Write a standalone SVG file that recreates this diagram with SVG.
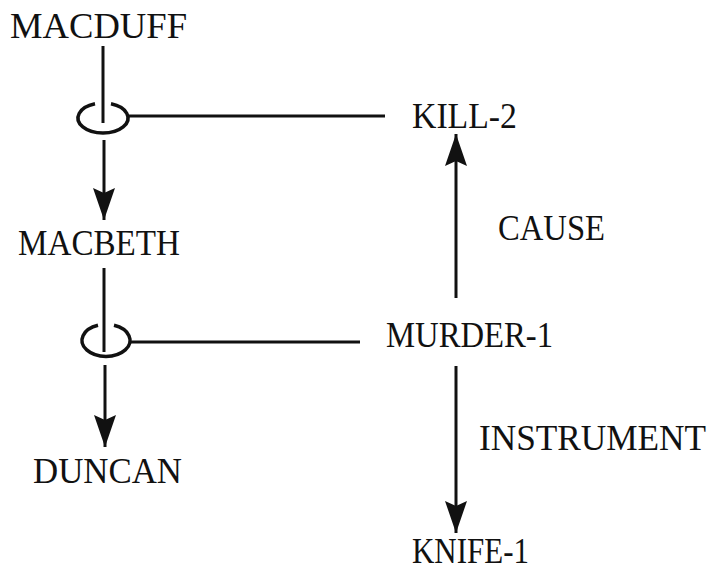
<svg xmlns="http://www.w3.org/2000/svg" width="722" height="571" viewBox="0 0 722 571">
<style>
.lbl{font-family:"Liberation Serif","Times New Roman",serif;font-size:35px;fill:#111}
.ln{stroke:#111;stroke-width:3;fill:none}
.ring{stroke:#111;stroke-width:3.5;fill:none}
</style>
<defs>
<marker id="ah" viewBox="0 0 32 22" refX="32" refY="11" markerWidth="32" markerHeight="22" markerUnits="userSpaceOnUse" orient="auto">
<path d="M0,0 L32,11 L0,22 L5,11 Z" fill="#111"/>
</marker>
</defs>
<rect width="722" height="571" fill="#fff"/>
<g id="connectors">
<line class="ln" x1="103" y1="46" x2="103" y2="123"/>
<path id="ring1" class="ring" d="M95,103.8 A25,15 0 1 0 111,103.8"/>
<line class="ln" x1="128" y1="116" x2="385" y2="116"/>
<line class="ln" x1="104" y1="140" x2="104" y2="220" marker-end="url(#ah)"/>
<line class="ln" x1="104" y1="268" x2="104" y2="352"/>
<path id="ring2" class="ring" d="M98,325.3 A24,16 0 1 0 114,325.3"/>
<line class="ln" x1="130" y1="342" x2="360" y2="342"/>
<line class="ln" x1="105" y1="365" x2="105" y2="447" marker-end="url(#ah)"/>
<line class="ln" x1="456" y1="298" x2="456" y2="134" marker-end="url(#ah)"/>
<line class="ln" x1="456" y1="366" x2="456" y2="533" marker-end="url(#ah)"/>
</g>
<g id="macduff"><text class="lbl" x="10" y="38" textLength="177" lengthAdjust="spacingAndGlyphs">MACDUFF</text></g>
<g id="kill2"><text class="lbl" x="412" y="128" textLength="105" lengthAdjust="spacingAndGlyphs">KILL-2</text></g>
<g id="macbeth"><text class="lbl" x="18" y="255" textLength="162" lengthAdjust="spacingAndGlyphs">MACBETH</text></g>
<g id="cause"><text class="lbl" x="498" y="240" textLength="107" lengthAdjust="spacingAndGlyphs">CAUSE</text></g>
<g id="murder1"><text class="lbl" x="386" y="347" textLength="167" lengthAdjust="spacingAndGlyphs">MURDER-1</text></g>
<g id="duncan"><text class="lbl" x="33" y="483" textLength="149" lengthAdjust="spacingAndGlyphs">DUNCAN</text></g>
<g id="instrument"><text class="lbl" x="479" y="450" textLength="227" lengthAdjust="spacingAndGlyphs">INSTRUMENT</text></g>
<g id="knife1"><text class="lbl" x="412" y="563" textLength="117" lengthAdjust="spacingAndGlyphs">KNIFE-1</text></g>
</svg>
